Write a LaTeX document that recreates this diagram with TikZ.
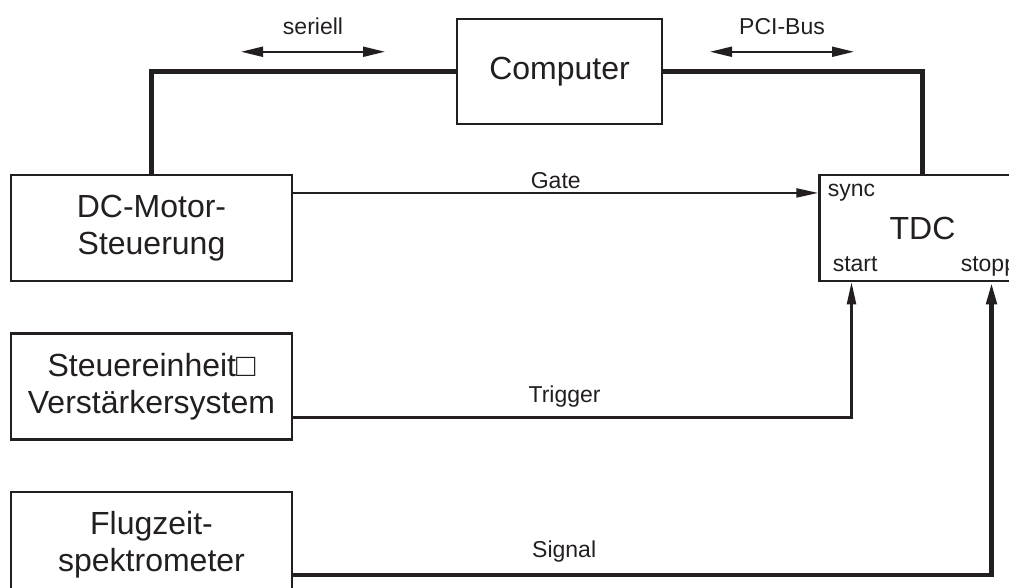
\documentclass[tikz,border=0pt]{standalone}
\usepackage{fontspec}
\setmainfont{Liberation Sans}
\usepackage{tikz}
\usetikzlibrary{arrows.meta, positioning}
\definecolor{ink}{RGB}{35,31,32}

\begin{document}
\begin{tikzpicture}[
    x=1pt, y=-1pt,
    box/.style={draw=ink, line width=2.5pt, rectangle, minimum width=281pt, minimum height=106pt, align=center, text=ink, font=\fontsize{32}{37}\selectfont},
    lbl/.style={text=ink, font=\fontsize{23}{27}\selectfont},
    bus/.style={draw=ink, line width=5.5pt},
    arrow/.style={draw=ink, line width=2.2pt, -{Triangle[length=22pt, width=9pt]}},
    thickarrow/.style={draw=ink, line width=4.5pt, -{Triangle[length=22pt, width=10pt]}},
    dblarrow/.style={draw=ink, line width=2pt, {Triangle[length=22pt, width=10pt]}-{Triangle[length=22pt, width=10pt]}}
]
\useasboundingbox (0,0) rectangle (1009,588);
\clip (0,0) rectangle (1009,588);

% Nodes
\node (computer) [box, minimum width=205pt, minimum height=105pt] at (559.5,71.5) {Computer};

\node (dcmotor) [box] at (151.5,228) {DC-Motor-\\Steuerung};
\node (steuer) [box, below=50pt of dcmotor] {Steuereinheit□\\Verstärkersystem};
\node (flug) [box, below=50pt of steuer] {Flugzeit-\\spektrometer};

\node (tdc) [box, minimum width=206pt, right=525pt of dcmotor] {TDC};
\node (sync) [lbl, anchor=base west] at ([shift={(6pt,-23pt)}]tdc.north west) {sync};
\node (start) [lbl, anchor=base west] at ([shift={(11pt,11pt)}]tdc.south west) {start};
\node (stopp) [lbl, anchor=base west] at ([shift={(139pt,11pt)}]tdc.south west) {stopp};

% Bus labels
\node (seriell) [lbl, anchor=base] at (313,35) {seriell};
\node (pcibus) [lbl, anchor=base] at (782,35) {PCI-Bus};

% Edges
\draw [bus] (computer.west) -| (dcmotor.north);
\draw [bus] (computer.east) -| (tdc.north);
\draw [dblarrow] ([shift={(-72pt,-13pt)}]seriell.south) -- ([shift={(72pt,-13pt)}]seriell.south);
\draw [dblarrow] ([shift={(-72pt,-13pt)}]pcibus.south) -- ([shift={(72pt,-13pt)}]pcibus.south);

\draw [arrow] (sync.west -| dcmotor.east) -- (sync.west -| tdc.west) node [lbl, midway, above] (gate) {Gate};
\draw [arrow] ([yshift=-31pt]steuer.east) -| ([xshift=-71pt]tdc.south) node [lbl, pos=0.243, above=6pt] (trigger) {Trigger};
\draw [thickarrow] ([yshift=-30pt]flug.east) -| ([xshift=69pt]tdc.south) node [lbl, pos=0.194, above=7pt] (signal) {Signal};

\end{tikzpicture}
\end{document}
